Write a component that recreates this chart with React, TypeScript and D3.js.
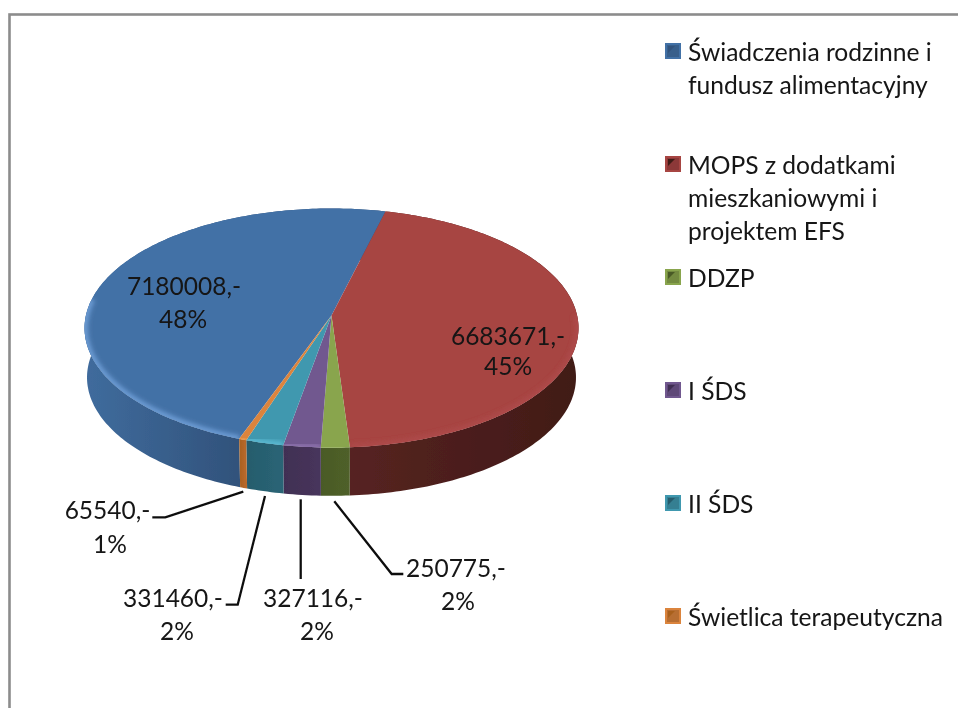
import React from "react";
import * as d3 from "d3";

const categories = ["Świadczenia rodzinne i fundusz alimentacyjny", "MOPS z dodatkami mieszkaniowymi i projektem EFS", "DDZP", "I ŚDS", "II ŚDS", "Świetlica terapeutyczna"];
const legendLines = [["Świadczenia rodzinne i", "fundusz alimentacyjny"], ["MOPS z dodatkami", "mieszkaniowymi i", "projektem EFS"], ["DDZP"], ["I ŚDS"], ["II ŚDS"], ["Świetlica terapeutyczna"]];
const values = [7180008, 6683671, 250775, 327116, 331460, 65540];
const valueLabels = ["7180008,-", "6683671,-", "250775,-", "327116,-", "331460,-", "65540,-"];
const percentLabels = ["48%", "45%", "2%", "2%", "2%", "1%"];

const topColors = ["#4371a6", "#a74442", "#89a54e", "#71588f", "#4198af", "#db843d"];
const sideLeft = ["#3f6b9c", "#562321", "#4f6029", "#47355c", "#2a6576", "#b9692c"];
const sideRight = ["#31527b", "#411a17", "#4a5a27", "#412f53", "#265c6c", "#a9601f"];
const rimColors = ["#6a9ad2", "#ad4a48", "#a3c063", "#8a6faa", "#58b8d0", "#eb9c50"];

// label layout: [value x, value y-centre, percent x, percent y-centre]
const labelPos = [[184, 285, 183, 318], [508, 335, 508, 365], [456, 567, 458, 600], [313, 597, 317, 630], [173, 597, 177, 630], [107.5, 509, 110, 543]];
// leader layout after the slice's own edge point
const leaderTail: ([number, number][] | null)[] = [null, null, [[391.7, 574], [403.3, 574]], [[300.7, 579]], [[237.7, 604.7], [225.7, 604.7]], [[165.3, 517.3], [152.3, 517.3]]];
const leaderHead: ([number, number] | null)[] = [null, null, [334.3, 501.3], [300.7, 499.3], [265, 496], [243.3, 491.7]];

const W = 958, H = 708;
const FONT = "Lato, Carlito, sans-serif";
const cx = 331.5, ay = 315.5, R = 245.6, B = 118.2, K = 0.1046;
const SCALE_BOTTOM = 0.99, DROP = 49.6;
const rad = (d: number) => (d * Math.PI) / 180;

const total = d3.sum(values);
const start = rad(14) - (2 * Math.PI * values[0]) / total;
const arcs = d3.pie<number>().sort(null).startAngle(start).endAngle(start + 2 * Math.PI)(values);

const project = (t: number): [number, number] => {
  const u = Math.sin(t), w = -Math.cos(t), d = 1 - K * w;
  return [cx + (R * u) / d, ay + (B * w) / d];
};
const lower = ([x, y]: [number, number]): [number, number] => [cx + (x - cx) * SCALE_BOTTOM, ay + DROP + (y - ay) * SCALE_BOTTOM];
const samples = (a: number, b: number) => {
  const n = Math.max(4, Math.ceil(((b - a) * 180) / Math.PI));
  return d3.range(n + 1).map((i) => a + ((b - a) * i) / n);
};
const line = d3.line<[number, number]>();
const topPath = (a: number, b: number) => line([[cx, ay], ...samples(a, b).map(project)]) + "Z";
const sidePath = (a: number, b: number) => {
  const upper = samples(a, b).map(project);
  return line([...upper, ...upper.slice().reverse().map(lower)]) + "Z";
};
const rimPath = (a: number, b: number) => {
  const lo = rad(90), hi = rad(278);
  const norm = a < 0 ? 2 * Math.PI : 0;
  const s = Math.max(a + norm, lo), e = Math.min(b + norm, hi);
  if (e <= s) return null;
  return line(samples(s, e).map(project));
};
const legendY = d3.scaleLinear().domain([0, 5]).range([51, 616]);

export default function App() {
  return (
    <svg width={W} height={H} viewBox={`0 0 ${W} ${H}`} style={{ position: "fixed", left: 0, top: 0, background: "#fff" }}>
      <defs>
        <filter id="soft" x="-5%" y="-5%" width="110%" height="110%"><feGaussianBlur stdDeviation="0.55" /></filter>
        <filter id="rimBlur" x="-20%" y="-20%" width="140%" height="140%"><feGaussianBlur stdDeviation="2" /></filter>
        {arcs.map((a, i) => (
          <linearGradient key={i} id={`side${i}`} gradientUnits="userSpaceOnUse"
            x1={i === 0 ? 90 : i === 1 ? 350 : project(a.startAngle)[0]} y1="0"
            x2={i === 0 ? 240 : i === 1 ? 575 : project(a.endAngle)[0]} y2="0">
            <stop offset="0" stopColor={sideLeft[i]} />
            <stop offset="1" stopColor={sideRight[i]} />
          </linearGradient>
        ))}
        {arcs.map((a, i) => (
          <clipPath key={i} id={`clip${i}`}><path d={topPath(a.startAngle, a.endAngle)} /></clipPath>
        ))}
      </defs>
      <rect x={9.5} y={14.5} width={W + 20} height={H + 20} fill="none" stroke="#8c8c8c" strokeWidth={2.6} />
      <g filter="url(#soft)">
        {arcs.map((a, i) => (
          <path key={i} d={sidePath(a.startAngle, a.endAngle)} fill={`url(#side${i})`} />
        ))}
        {arcs.map((a, i) => (
          <path key={i} d={topPath(a.startAngle, a.endAngle)} fill={topColors[i]} />
        ))}
        {arcs.map((a, i) => {
          const d = rimPath(a.startAngle, a.endAngle);
          return d ? (
            <g key={i} clipPath={`url(#clip${i})`}>
              <path d={d} fill="none" stroke={rimColors[i]} strokeWidth={7} filter="url(#rimBlur)" />
            </g>
          ) : null;
        })}
        {leaderHead.map((h, i) => h && (
          <path key={i} d={line([h, ...(leaderTail[i] as [number, number][])]) as string} fill="none" stroke="#111" strokeWidth={2.3} />
        ))}
        <g fontFamily={FONT} fontSize={24.5} fill="#141414" textAnchor="middle" dominantBaseline="central">
          {labelPos.map((p, i) => (
            <g key={i}>
              <text x={p[0]} y={p[1]}>{valueLabels[i]}</text>
              <text x={p[2]} y={p[3]}>{percentLabels[i]}</text>
            </g>
          ))}
        </g>
        {categories.map((c, i) => {
          const y = legendY(i);
          return (
            <g key={c}>
              <rect x={665} y={y - 8} width={16} height={16} fill={topColors[i]} />
              <rect x={667} y={y - 6} width={12} height={12} fill={d3.color(topColors[i])!.darker(0.5).formatHex()} />
              <path d={line([[668, y - 5], [675, y - 5], [668, y + 2]]) + "Z"} fill={sideRight[i]} />
              <text x={688} fontFamily={FONT} fontSize={24.6} fill="#141414" dominantBaseline="central">
                {legendLines[i].map((l, j) => (
                  <tspan key={j} x={688} y={y + j * 33}>{l}</tspan>
                ))}
              </text>
            </g>
          );
        })}
      </g>
    </svg>
  );
}
